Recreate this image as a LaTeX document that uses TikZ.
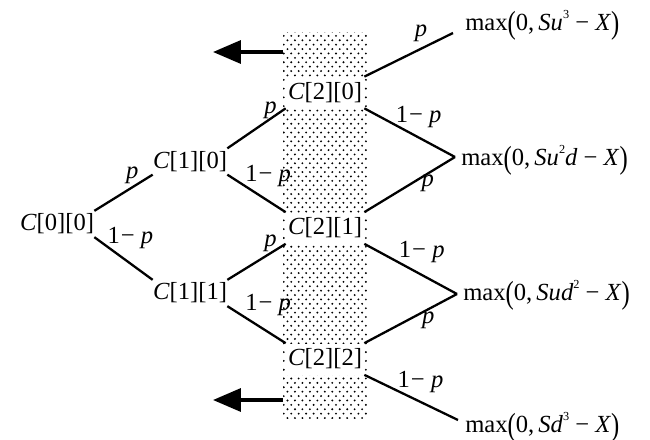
\documentclass[tikz,border=0pt]{standalone}
\usepackage{fontspec}
\setmainfont{Liberation Serif}
\usetikzlibrary{patterns,arrows.meta,calc}
\pgfdeclarepatternformonly{refdots}{\pgfqpoint{-1pt}{-1pt}}{\pgfqpoint{5.25pt}{6pt}}{\pgfqpoint{4.25pt}{5pt}}{%
  \pgfpathcircle{\pgfqpoint{0pt}{0pt}}{0.6pt}%
  \pgfpathcircle{\pgfqpoint{2.125pt}{2.5pt}}{0.6pt}%
  \pgfusepath{fill}}
\newcommand{\ip}{\textit{p}}
\newcommand{\omp}{1\kern0.04em−\kern0.25em\textit{p}}
\newcommand{\bigpar}[1]{\raisebox{-0.12em}{\scalebox{1}[1.3]{#1}}}
\newcommand{\sps}[1]{\raisebox{0.5em}{\fontsize{7}{7}\selectfont #1}}
\newcommand{\maxpay}[1]{max\bigpar{(}0,\,#1\kern0.25em−\kern0.25em\textit{X}\bigpar{)}}
\begin{document}
\begin{tikzpicture}[x=0.02cm,y=-0.02cm,
  font=\fontsize{14}{16}\selectfont,
  edge/.style={line width=1.3pt},
  cnode/.style={inner xsep=0pt,inner ysep=1.5pt},
  wbox/.style={fill=white,minimum width=1.56cm,minimum height=0.62cm,inner sep=0pt},
  rnode/.style={anchor=west,inner sep=0pt},
  lab/.style={inner sep=0pt},
  bigarrow/.style={line width=2pt,-{Triangle[length=0.56cm,width=0.46cm]}}]
\useasboundingbox (0,0) rectangle (650,440);
\fill[pattern=refdots] (283,32) rectangle (367,418);
\node[cnode] (c00) at (57,224) {\textit{C}[0][0]};
\node[cnode] (c10) at (190,161.5) {\textit{C}[1][0]};
\node[cnode] (c11) at (190,293) {\textit{C}[1][1]};
\node[wbox] (c20) at (325,92.5) {\textit{C}[2][0]};
\node[wbox] (c21) at (325,228) {\textit{C}[2][1]};
\node[wbox] (c22) at (325,359) {\textit{C}[2][2]};
\node[rnode] (r1) at (465,25) {\maxpay{\textit{Su}\sps{3}}};
\node[rnode] (r2) at (461,160) {\maxpay{\textit{Su}\sps{2}\textit{d}}};
\node[rnode] (r3) at (463,295) {\maxpay{\textit{Sud}\sps{2}}};
\node[rnode] (r4) at (465,427) {\maxpay{\textit{Sd}\sps{3}}};
\coordinate (a1s) at (283,52);
\coordinate (a1e) at (213,52);
\coordinate (a2s) at (283,400);
\coordinate (a2e) at (213,400);
\draw[bigarrow] (a1s) -- (a1e);
\draw[bigarrow] (a2s) -- (a2e);
\draw[edge] (c00.north east) -- node[lab,pos=0.65,yshift=0.24cm] {\ip} (c10.south west);
\draw[edge] (c00.south east) -- node[lab,pos=0.62,yshift=0.52cm] {\omp} (c11.north west);
\draw[edge] (c10.north east) -- node[lab,pos=0.74,yshift=0.16cm] {\ip} (c20.south west);
\draw[edge] (c10.south east) -- node[lab,pos=0.70,yshift=0.5cm] {\omp} (c21.north west);
\draw[edge] (c11.north east) -- node[lab,pos=0.74,yshift=0.2cm] {\ip} (c21.south west);
\draw[edge] (c11.south east) -- node[lab,pos=0.70,yshift=0.54cm] {\omp} (c22.north west);
\draw[edge] (c20.north east) -- node[lab,pos=0.64,yshift=0.3cm] {\ip} ($(r1.west)+(-12,8)$);
\draw[edge] (c20.south east) -- node[lab,pos=0.6,yshift=0.42cm] {\omp} ($(r2.west)+(-6,-3)$);
\draw[edge] (c21.north east) -- node[lab,pos=0.70,yshift=-0.2cm] {\ip} ($(r2.west)+(-6,-3)$);
\draw[edge] (c21.south east) -- node[lab,pos=0.62,yshift=0.46cm] {\omp} ($(r3.west)+(-6,-1)$);
\draw[edge] (c22.north east) -- node[lab,pos=0.69,yshift=-0.22cm] {\ip} ($(r3.west)+(-6,-1)$);
\draw[edge] (c22.south east) -- node[lab,pos=0.6,yshift=0.4cm] {\omp} ($(r4.west)+(-7,-7)$);
\end{tikzpicture}
\end{document}
